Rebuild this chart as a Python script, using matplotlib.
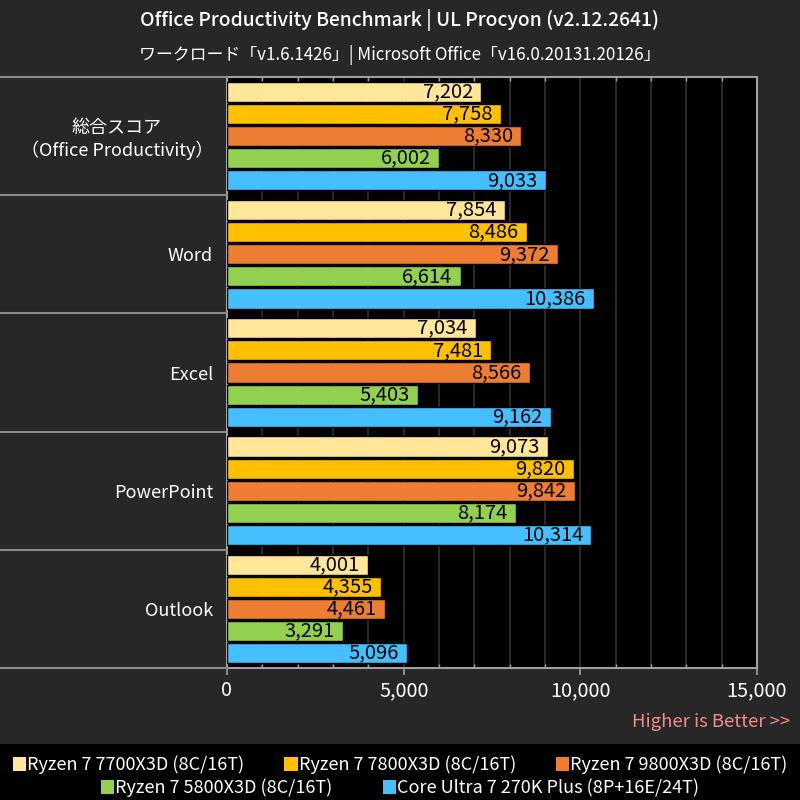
import matplotlib
matplotlib.use("Agg")
import matplotlib.pyplot as plt
import matplotlib.transforms as mtransforms
from matplotlib.patches import Rectangle
from matplotlib.ticker import MultipleLocator, FuncFormatter
import numpy as np

plt.rcParams['font.family'] = ['Noto Sans CJK JP', 'DejaVu Sans']

categories = ["総合スコア\n（Office Productivity）", "Word", "Excel", "PowerPoint", "Outlook"]
series_names = ["Ryzen 7 7700X3D (8C/16T)", "Ryzen 7 7800X3D (8C/16T)", "Ryzen 7 9800X3D (8C/16T)",
                "Ryzen 7 5800X3D (8C/16T)", "Core Ultra 7 270K Plus (8P+16E/24T)"]
r7700x3d = [7202, 7854, 7034, 9073, 4001]
r7800x3d = [7758, 8486, 7481, 9820, 4355]
r9800x3d = [8330, 9372, 8566, 9842, 4461]
r5800x3d = [6002, 6614, 5403, 8174, 3291]
cu270k = [9033, 10386, 9162, 10314, 5096]
series = [r7700x3d, r7800x3d, r9800x3d, r5800x3d, cu270k]
colors = ["#FFE699", "#FFC000", "#ED7D31", "#92D050", "#45BFFF"]

title = "Office Productivity Benchmark | UL Procyon (v2.12.2641)"
subtitle = "ワークロード「v1.6.1426」| Microsoft Office「v16.0.20131.20126」"

fig = plt.figure(figsize=(8, 8), dpi=100)
fig.patch.set_facecolor("#272727")
# black legend band
fig.add_artist(Rectangle((0, 0), 1, 56/800, transform=fig.transFigure, facecolor="black", edgecolor="none", zorder=0))

ax = fig.add_axes([227/800, 1-668/800, 530/800, (668-77)/800])
ax.set_facecolor("black")

y = np.arange(len(categories))
pitch = 0.187
height = 0.17
bars_list = []
for j, (vals, col, name) in enumerate(zip(series, colors, series_names)):
    pos = y + (j - 2) * pitch
    bars = ax.barh(pos, vals, height=height, color=col, edgecolor="black", linewidth=1, label=name, zorder=3)
    bars_list.append(bars)
    for p, v in zip(pos, vals):
        ax.annotate(f"{v:,}", xy=(v, p), xytext=(-6, 0), textcoords="offset points",
                    ha="right", va="center", fontsize=14.5, color="black", zorder=4)

ax.set_xlim(0, 15000)
ax.set_ylim(len(categories) - 0.5, -0.5)
ax.xaxis.set_major_locator(MultipleLocator(5000))
ax.xaxis.set_minor_locator(MultipleLocator(1000))
ax.xaxis.set_major_formatter(FuncFormatter(lambda v, p: f"{int(v):,}"))
ax.grid(axis="x", which="both", color="#333333", linewidth=1.2, zorder=1)
ax.set_axisbelow(True)
ax.tick_params(axis="x", which="major", colors="#a0a0a0", labelcolor="white", labelsize=14.3,
               length=5, width=1.2, direction="out", pad=4)
ax.tick_params(axis="x", which="minor", colors="#a0a0a0", length=3, width=1, direction="in", top=True)
ax.set_yticks(y)
ax.set_yticklabels(categories, fontsize=13, color="white", multialignment="center")
ax.tick_params(axis="y", length=0, pad=10)
for s in ax.spines.values():
    s.set_color("#a0a0a0")
    s.set_linewidth(1.5)

# category separators in the label area (extending left to figure edge)
trans = mtransforms.blended_transform_factory(ax.transAxes, ax.transData)
x0 = -227/530
for b in np.arange(-0.5, len(categories) + 0.5, 1.0):
    ax.plot([x0, 0], [b, b], transform=trans, color="#8a8a8a", linewidth=1.5, clip_on=False, zorder=5)

fig.text(0.5, 1-20/800, title, ha="center", va="center", fontsize=13.9, color="white", fontweight="medium")
fig.text(0.5, 1-55/800, subtitle, ha="center", va="center", fontsize=12.2, color="white")
fig.text(790/800, 1-722/800, "Higher is Better >>", ha="right", va="center", fontsize=13.3, color="#F08C8C")

leg_kw = dict(frameon=False, fontsize=13, labelcolor="white", handlelength=0.75, handleheight=0.75,
              handletextpad=0.05, borderaxespad=0, borderpad=0)
leg1 = fig.legend(bars_list[:3], series_names[:3], loc="center", bbox_to_anchor=(0.5, 1-765/800), ncol=3,
                  columnspacing=2.2, **leg_kw)
leg2 = fig.legend(bars_list[3:], series_names[3:], loc="center", bbox_to_anchor=(0.5, 1-788/800), ncol=2,
                  columnspacing=2.8, **leg_kw)
for leg in (leg1, leg2):
    for h in leg.legend_handles:
        h.set_edgecolor("none")

fig.savefig("out.png", dpi=100, facecolor=fig.get_facecolor())
